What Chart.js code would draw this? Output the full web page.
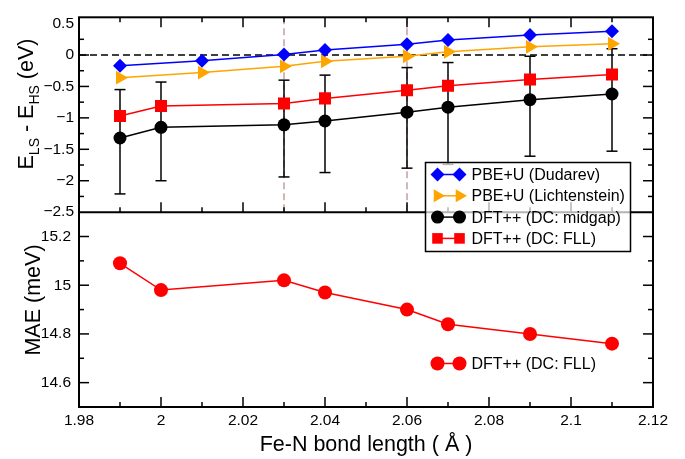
<!DOCTYPE html>
<html>
<head>
<meta charset="utf-8">
<script src="https://cdn.jsdelivr.net/npm/chart.js@4.4.0/dist/chart.umd.min.js"></script>
<style>
  html, body { margin: 0; padding: 0; background: #fff; }
  #wrap { width: 685px; height: 459px; }
</style>
</head>
<body>
<div id="wrap"><canvas id="spin-chart" width="685" height="459"></canvas></div>
<script>
const FONT = '"Liberation Sans", Arial, Helvetica, sans-serif';

// Fe-N bond lengths (Å)
const lenPbeU = [1.99, 2.01, 2.03, 2.04, 2.06, 2.07, 2.09, 2.11];
const lenDft = [1.99, 2.00, 2.03, 2.04, 2.06, 2.07, 2.09, 2.11];

// E_LS - E_HS (eV)
const dudarev = [-0.17, -0.09, 0.01, 0.08, 0.17, 0.24, 0.32, 0.38];
const lichtenstein = [-0.36, -0.28, -0.18, -0.10, -0.02, 0.05, 0.13, 0.18];
const midgap = [-1.32, -1.15, -1.11, -1.05, -0.91, -0.83, -0.71, -0.62];
const midgapHigh = [-0.55, -0.43, -0.40, -0.32, -0.20, -0.12, -0.02, 0.10];
const midgapLow = [-2.21, -2.00, -1.94, -1.87, -1.80, -1.74, -1.61, -1.53];
const fll = [-0.97, -0.81, -0.77, -0.69, -0.56, -0.49, -0.39, -0.31];

// magnetic anisotropy energy (meV)
const maeFll = [15.09, 14.98, 15.02, 14.97, 14.90, 14.84, 14.80, 14.76];

const xTicks = [1.98, 2.00, 2.02, 2.04, 2.06, 2.08, 2.10, 2.12];
const energyTicks = [-2.5, -2, -1.5, -1, -0.5, 0, 0.5];
const maeTicks = [14.6, 14.8, 15.0, 15.2];
const markedLengths = [2.03, 2.06];

const toPoints = (xs, ys) => xs.map((x, i) => ({ x: x, y: ys[i] }));
const fmt = v => {
    const s = String(Math.round(Math.abs(v) * 100) / 100);
    return v < 0 ? '\u2212' + s : s;
};

function drawMarker(ctx, style, x, y, r, color) {
    ctx.save();
    ctx.fillStyle = color;
    ctx.beginPath();
    if (style === 'circle') {
        ctx.arc(x, y, r, 0, Math.PI * 2);
    } else if (style === 'rect') {
        const s = r * Math.SQRT1_2;
        ctx.rect(x - s, y - s, 2 * s, 2 * s);
    } else if (style === 'rectRot') {
        ctx.moveTo(x - r, y);
        ctx.lineTo(x, y - r);
        ctx.lineTo(x + r, y);
        ctx.lineTo(x, y + r);
    } else if (style === 'triangle') {
        ctx.moveTo(x + r, y);
        ctx.lineTo(x - r / 2, y - r * 0.866);
        ctx.lineTo(x - r / 2, y + r * 0.866);
    }
    ctx.closePath();
    ctx.fill();
    ctx.restore();
}

function line(ctx, x1, y1, x2, y2) {
    ctx.beginPath();
    ctx.moveTo(x1, y1);
    ctx.lineTo(x2, y2);
    ctx.stroke();
}

function series(label, xs, ys, color, style, radius, axis, rotation) {
    return {
        label: label,
        data: toPoints(xs, ys),
        yAxisID: axis,
        showLine: true,
        borderColor: color,
        backgroundColor: color,
        borderWidth: 1.5,
        pointStyle: style,
        pointRadius: radius,
        pointBorderWidth: 0,
        pointRotation: rotation || 0,
        marker: style
    };
}

// dashed guides and error bars under the data
const underlayPlugin = {
    id: 'underlay',
    beforeDatasetsDraw(chart) {
        const ctx = chart.ctx;
        const area = chart.chartArea;
        const xs = chart.scales.x, yt = chart.scales.yTop;
        ctx.save();
        ctx.setLineDash([7, 4]);
        ctx.lineWidth = 1.4;
        ctx.strokeStyle = '#c29898';
        markedLengths.forEach(v => {
            const px = xs.getPixelForValue(v);
            line(ctx, px, area.top, px, yt.bottom);
        });
        ctx.lineWidth = 1.5;
        ctx.strokeStyle = '#000';
        const y0 = yt.getPixelForValue(0);
        line(ctx, area.left, y0, area.right, y0);
        ctx.setLineDash([]);

        ctx.lineWidth = 1.5;
        lenDft.forEach((v, i) => {
            const px = xs.getPixelForValue(v);
            const hi = yt.getPixelForValue(midgapHigh[i]);
            const lo = yt.getPixelForValue(midgapLow[i]);
            line(ctx, px, hi, px, lo);
            line(ctx, px - 5.5, hi, px + 5.5, hi);
            line(ctx, px - 5.5, lo, px + 5.5, lo);
        });
        ctx.restore();
    }
};

// frames, inward ticks, titles and legends
const framePlugin = {
    id: 'frame',
    afterDraw(chart) {
        const ctx = chart.ctx;
        const a = chart.chartArea;
        const xs = chart.scales.x, yt = chart.scales.yTop, yb = chart.scales.yBot;
        const mid = yt.bottom;
        ctx.save();
        ctx.strokeStyle = '#000';
        ctx.lineWidth = 2;
        ctx.strokeRect(a.left, a.top, a.right - a.left, a.bottom - a.top);
        line(ctx, a.left, mid, a.right, mid);

        ctx.lineWidth = 1.5;
        for (let i = 1; i < 14; i++) {
            const v = 1.98 + i * 0.01;
            const len = i % 2 === 0 ? 10 : 5;
            const px = xs.getPixelForValue(v);
            line(ctx, px, a.top, px, a.top + len);
            line(ctx, px, mid, px, mid - len);
            line(ctx, px, a.bottom, px, a.bottom - len);
        }
        for (let i = 1; i < 12; i++) {
            const v = -2.5 + i * 0.25;
            const len = i % 2 === 0 ? 10 : 5;
            const py = yt.getPixelForValue(v);
            line(ctx, a.left, py, a.left + len, py);
            line(ctx, a.right, py, a.right - len, py);
        }
        for (let i = 1; i < 8; i++) {
            const v = 14.5 + i * 0.1;
            const len = i % 2 === 1 ? 10 : 5;
            const py = yb.getPixelForValue(v);
            line(ctx, a.left, py, a.left + len, py);
            line(ctx, a.right, py, a.right - len, py);
        }

        // axis titles
        ctx.fillStyle = '#000';
        ctx.textBaseline = 'alphabetic';
        ctx.textAlign = 'center';
        ctx.font = '21.5px ' + FONT;
        ctx.fillText('Fe-N bond length ( \u00c5 )', (a.left + a.right) / 2, 450.5);

        ctx.save();
        ctx.translate(40, 300);
        ctx.rotate(-Math.PI / 2);
        ctx.fillText('MAE (meV)', 0, 0);
        ctx.restore();

        const parts = [['E', 0], ['LS', 1], [' - E', 0], ['HS', 1], [' (eV)', 0]];
        const big = '21.5px ' + FONT, small = '14px ' + FONT;
        let total = 0;
        parts.forEach(p => { ctx.font = p[1] ? small : big; total += ctx.measureText(p[0]).width; });
        ctx.save();
        ctx.translate(33, 104);
        ctx.rotate(-Math.PI / 2);
        ctx.textAlign = 'left';
        let cx = -total / 2;
        parts.forEach(p => {
            ctx.font = p[1] ? small : big;
            ctx.fillText(p[0], cx, p[1] ? 6 : 0);
            cx += ctx.measureText(p[0]).width;
        });
        ctx.restore();

        // legend for the energy panel
        ctx.fillStyle = 'rgba(255,255,255,0.7)';
        ctx.fillRect(425.5, 162.5, 205, 89);
        ctx.lineWidth = 1.5;
        ctx.strokeRect(425.5, 162.5, 205, 89);
        const energySets = chart.data.datasets.filter(d => d.yAxisID === 'yTop');
        energySets.forEach((d, i) => legendRow(ctx, d, 174.5 + i * 21.3));

        const maeSet = chart.data.datasets.find(d => d.yAxisID === 'yBot');
        legendRow(ctx, maeSet, 363.5);
        ctx.restore();
    }
};

function legendRow(ctx, d, y) {
    const r = Math.min(d.pointRadius, 7.5);
    ctx.strokeStyle = d.borderColor;
    ctx.lineWidth = 1.5;
    line(ctx, 437.5, y, 459.5, y);
    drawMarker(ctx, d.marker, 437.5, y, r, d.backgroundColor);
    drawMarker(ctx, d.marker, 459.5, y, r, d.backgroundColor);
    ctx.fillStyle = '#000';
    ctx.font = '16px ' + FONT;
    ctx.textAlign = 'left';
    ctx.textBaseline = 'middle';
    ctx.fillText(d.label, 471.5, y + 1);
}

const tickFont = { family: FONT, size: 15.5 };

new Chart(document.getElementById('spin-chart'), {
    type: 'scatter',
    data: {
        datasets: [
            series('PBE+U (Dudarev)', lenPbeU, dudarev, '#0000ff', 'rectRot', 7, 'yTop'),
            series('PBE+U (Lichtenstein)', lenPbeU, lichtenstein, '#ffa500', 'triangle', 8, 'yTop', 90),
            series('DFT++ (DC: midgap)', lenDft, midgap, '#000000', 'circle', 6.5, 'yTop'),
            series('DFT++ (DC: FLL)', lenDft, fll, '#ff0000', 'rect', 8.5, 'yTop'),
            series('DFT++ (DC: FLL)', lenDft, maeFll, '#ff0000', 'circle', 7, 'yBot')
        ]
    },
    options: {
        responsive: false,
        animation: false,
        events: [],
        layout: { padding: { left: 0, top: 5, right: 32, bottom: 0 } },
        plugins: { legend: { display: false }, tooltip: { enabled: false } },
        scales: {
            x: {
                type: 'linear',
                min: 1.98,
                max: 2.12,
                afterBuildTicks: s => { s.ticks = xTicks.map(v => ({ value: v })); },
                afterFit: s => { s.height = 52; },
                grid: { display: false, drawTicks: false },
                border: { display: false },
                ticks: { color: '#000', font: tickFont, padding: 4, maxRotation: 0, autoSkip: false, callback: v => fmt(v) }
            },
            yBot: {
                type: 'linear',
                position: 'left',
                stack: 'panels',
                stackWeight: 1,
                min: 14.5,
                max: 15.3,
                afterBuildTicks: s => { s.ticks = maeTicks.map(v => ({ value: v })); },
                afterFit: s => { s.width = 79; },
                grid: { display: false, drawTicks: false },
                border: { display: false },
                ticks: { color: '#000', font: tickFont, padding: 8, autoSkip: false, callback: v => fmt(v) }
            },
            yTop: {
                type: 'linear',
                position: 'left',
                stack: 'panels',
                stackWeight: 1,
                min: -2.5,
                max: 0.6,
                afterBuildTicks: s => { s.ticks = energyTicks.map(v => ({ value: v })); },
                afterFit: s => { s.width = 79; },
                grid: { display: false, drawTicks: false },
                border: { display: false },
                ticks: { color: '#000', font: tickFont, padding: 5, autoSkip: false, callback: v => fmt(v) }
            }
        }
    },
    plugins: [underlayPlugin, framePlugin]
});
</script>
</body>
</html>
